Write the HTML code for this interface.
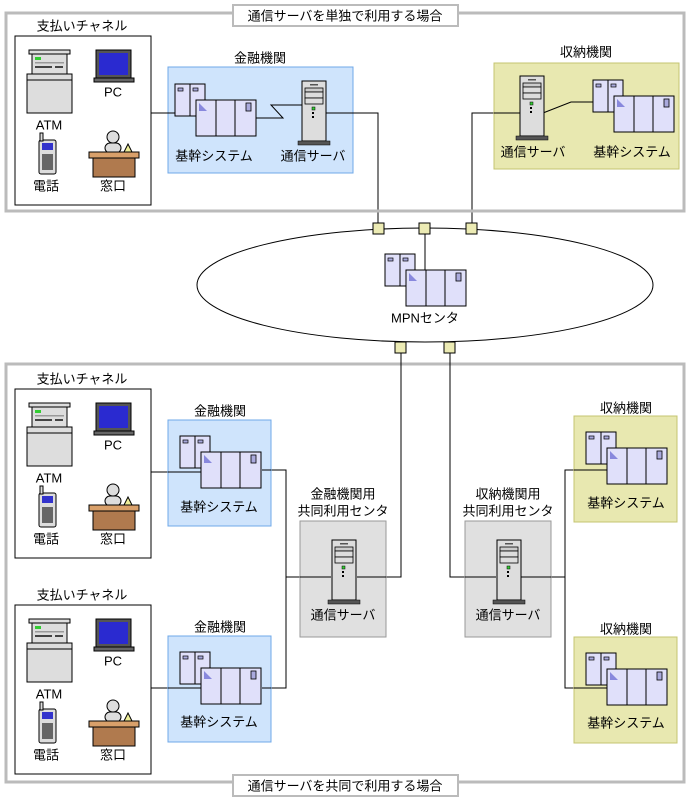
<!DOCTYPE html>
<html><head><meta charset="utf-8"><style>
html,body{margin:0;padding:0;background:#fff}
svg{display:block}
text{font-family:"Liberation Sans","Noto Sans CJK JP",sans-serif;font-size:13px;fill:#000;text-anchor:middle;dominant-baseline:central}
</style></head><body>
<svg width="690" height="801" viewBox="0 0 690 801" xmlns="http://www.w3.org/2000/svg">
<defs>
<g id="ch">
<rect x="0" y="0" width="136" height="169" fill="#fff" stroke="#000" stroke-width="1"/>
<!-- ATM -->
<rect x="14" y="14" width="41" height="4" fill="#ddd" stroke="#000"/>
<rect x="17" y="18" width="35" height="20" fill="#ddd" stroke="#000"/>
<rect x="20" y="21" width="6" height="3" fill="#3c3"/>
<rect x="20" y="26" width="29" height="1.5" fill="#999"/>
<rect x="20" y="30" width="17" height="2" fill="#444"/>
<rect x="40" y="30" width="8" height="2" fill="#444"/>
<rect x="12" y="38" width="45" height="6" fill="#ddd" stroke="#000"/>
<rect x="12" y="44" width="45" height="33" fill="#ddd" stroke="#000"/>
<text x="34" y="89">ATM</text>
<!-- PC -->
<rect x="81" y="14" width="35" height="28" fill="#555" stroke="#000"/>
<rect x="84" y="17" width="29" height="22" fill="#2a2ad0"/>
<rect x="79" y="42" width="40" height="4" fill="#666" stroke="#000"/>
<text x="98" y="56">PC</text>
<!-- phone -->
<rect x="24" y="104" width="17" height="34" rx="2" fill="#ddd" stroke="#000"/>
<rect x="25" y="97" width="3" height="8" fill="#ddd" stroke="#000"/>
<rect x="27" y="107" width="11" height="7" fill="#33c"/>
<rect x="27" y="118" width="11" height="16" fill="#666"/>
<text x="31" y="150">電話</text>
<!-- desk -->
<circle cx="98" cy="101" r="6" fill="#ddd" stroke="#000"/>
<rect x="90" y="107" width="16" height="10" rx="5" fill="#ddd" stroke="#000"/>
<polygon points="113,108 117,116 109,116" fill="#ee9" stroke="#000"/>
<rect x="74" y="116" width="50" height="6" fill="#d9a06a" stroke="#000"/>
<rect x="78" y="122" width="42" height="19" fill="#b07a4e" stroke="#000"/>
<text x="98" y="150">窓口</text>
</g>
<g id="sys">
<rect x="0" y="0" width="15" height="32" fill="#e0e0fa" stroke="#000"/>
<rect x="15" y="0" width="15" height="32" fill="#e0e0fa" stroke="#000"/>
<rect x="3" y="4" width="5" height="3" fill="#aad" stroke="#000" stroke-width=".7"/>
<rect x="18" y="4" width="5" height="3" fill="#aad" stroke="#000" stroke-width=".7"/>
<rect x="21" y="16" width="60" height="36" fill="#e0e0fa" stroke="#000"/>
<line x1="41" y1="16" x2="41" y2="52" stroke="#000"/>
<line x1="60" y1="16" x2="60" y2="52" stroke="#000"/>
<polygon points="24,19 24,27 32,27" fill="#88d"/>
<rect x="71" y="19" width="5" height="8" fill="#aad" stroke="#000" stroke-width=".8"/>
</g>
<g id="srv">
<rect x="0" y="0" width="24" height="60" fill="#ddd" stroke="#000"/>
<rect x="8" y="3" width="8" height="1.5" fill="#555"/>
<rect x="3" y="7" width="18" height="4" fill="#ccc" stroke="#000" stroke-width=".8"/>
<rect x="3" y="11" width="18" height="6" fill="#ddd" stroke="#000" stroke-width=".8"/>
<rect x="3" y="17" width="18" height="6" fill="#ddd" stroke="#000" stroke-width=".8"/>
<rect x="10" y="26" width="3" height="3" fill="#3c3" stroke="#000" stroke-width=".5"/>
<rect x="10" y="31" width="2" height="2" fill="#000"/>
<rect x="10" y="35" width="2" height="2" fill="#000"/>
<rect x="-4" y="60" width="32" height="4" fill="#555" stroke="#000" stroke-width=".5"/>
</g>
<rect id="sq" x="0" y="0" width="12" height="12" fill="#ecec b4" stroke="#000"/>
</defs>

<g fill="none" stroke="#000">
<!-- lines top -->
<path d="M151,113 H180"/>
<path d="M256,118 H283 L271,105 H303"/>
<path d="M325,113 H378 V229"/>
<path d="M521,113 H472 V229"/>
<path d="M545,110 L571,101 H594"/>
</g>

<!-- top section -->
<rect x="6" y="13" width="678" height="198" fill="none" stroke="#bbb" stroke-width="3"/>
<rect x="233" y="5" width="225" height="21" fill="#fff" stroke="#bbb" stroke-width="2"/>
<text x="345" y="16">通信サーバを単独で利用する場合</text>
<text x="82" y="26">支払いチャネル</text>
<use href="#ch" x="15" y="36"/>
<text x="260" y="58">金融機関</text>
<rect x="168" y="67" width="185" height="106" fill="#cfe4fc" stroke="#6fa8e8"/>
<path d="M151,113 H176" stroke="#000"/>
<path d="M256,118 H283 L271,105 H303" stroke="#000" fill="none"/>
<use href="#sys" x="175" y="84"/>
<use href="#srv" x="302" y="81"/>
<text x="214" y="156">基幹システム</text>
<text x="313" y="156">通信サーバ</text>
<path d="M326,113 H378" stroke="#000"/>

<text x="586" y="52">収納機関</text>
<rect x="494" y="63" width="185" height="106" fill="#e8e8b0" stroke="#c4c470"/>
<path d="M543,113 L571,102 H594" stroke="#000" fill="none"/>
<path d="M521,113 H494" stroke="#000"/>
<use href="#srv" x="520" y="76"/>
<use href="#sys" x="593" y="80"/>
<text x="533" y="152">通信サーバ</text>
<text x="632" y="152">基幹システム</text>

<!-- MPN -->
<ellipse cx="425" cy="285" rx="228" ry="57" fill="#fff" stroke="#000"/>
<path d="M425,229 V270" stroke="#000"/>
<use href="#sys" x="385" y="254"/>
<text x="425" y="318">MPNセンタ</text>
<rect x="373" y="223" width="11" height="11" fill="#ecebb4" stroke="#000"/>
<rect x="419" y="223" width="11" height="11" fill="#ecebb4" stroke="#000"/>
<rect x="466" y="223" width="11" height="11" fill="#ecebb4" stroke="#000"/>
<rect x="395" y="342" width="11" height="11" fill="#ecebb4" stroke="#000"/>
<rect x="444" y="342" width="11" height="11" fill="#ecebb4" stroke="#000"/>

<!-- bottom section -->
<rect x="6" y="364" width="678" height="418" fill="none" stroke="#bbb" stroke-width="3"/>
<g fill="none" stroke="#000">
<path d="M401,353 V577 H357"/>
<path d="M450,353 V577 H496"/>
<path d="M151,472 H201"/>
<path d="M151,688 H201"/>
<path d="M262,470 H286 V688 H262"/>
<path d="M286,577 H331"/>
<path d="M520,577 H565"/>
<path d="M590,470 H565 V688 H607"/>
</g>
<rect x="233" y="775" width="225" height="21" fill="#fff" stroke="#bbb" stroke-width="2"/>
<text x="345" y="786">通信サーバを共同で利用する場合</text>

<text x="82" y="379">支払いチャネル</text>
<use href="#ch" x="15" y="389"/>
<text x="82" y="595">支払いチャネル</text>
<use href="#ch" x="15" y="605"/>

<text x="220" y="411">金融機関</text>
<rect x="168" y="420" width="103" height="106" fill="#cfe4fc" stroke="#6fa8e8"/>
<path d="M168,472 H201 M262,470 H271" stroke="#000"/>
<use href="#sys" x="180" y="436"/>
<text x="219" y="507">基幹システム</text>

<text x="220" y="627">金融機関</text>
<rect x="168" y="636" width="103" height="106" fill="#cfe4fc" stroke="#6fa8e8"/>
<path d="M168,688 H201 M262,688 H271" stroke="#000"/>
<use href="#sys" x="180" y="652"/>
<text x="219" y="722">基幹システム</text>

<text x="343" y="494">金融機関用</text>
<text x="343" y="511">共同利用センタ</text>
<rect x="300" y="521" width="86" height="116" fill="#e0e0e0" stroke="#999"/>
<path d="M300,577 H331 M357,577 H386" stroke="#000"/>
<use href="#srv" x="332" y="540"/>
<text x="343" y="615">通信サーバ</text>

<text x="508" y="494">収納機関用</text>
<text x="508" y="511">共同利用センタ</text>
<rect x="465" y="521" width="86" height="116" fill="#e0e0e0" stroke="#999"/>
<path d="M465,577 H496 M520,577 H551" stroke="#000"/>
<use href="#srv" x="497" y="540"/>
<text x="508" y="615">通信サーバ</text>

<text x="626" y="408">収納機関</text>
<rect x="574" y="416" width="103" height="106" fill="#e8e8b0" stroke="#c4c470"/>
<path d="M574,470 H607" stroke="#000"/>
<use href="#sys" x="586" y="432"/>
<text x="626" y="503">基幹システム</text>

<text x="626" y="629">収納機関</text>
<rect x="574" y="637" width="103" height="106" fill="#e8e8b0" stroke="#c4c470"/>
<path d="M574,688 H607" stroke="#000"/>
<use href="#sys" x="586" y="653"/>
<text x="626" y="723">基幹システム</text>
</svg>
</body></html>
